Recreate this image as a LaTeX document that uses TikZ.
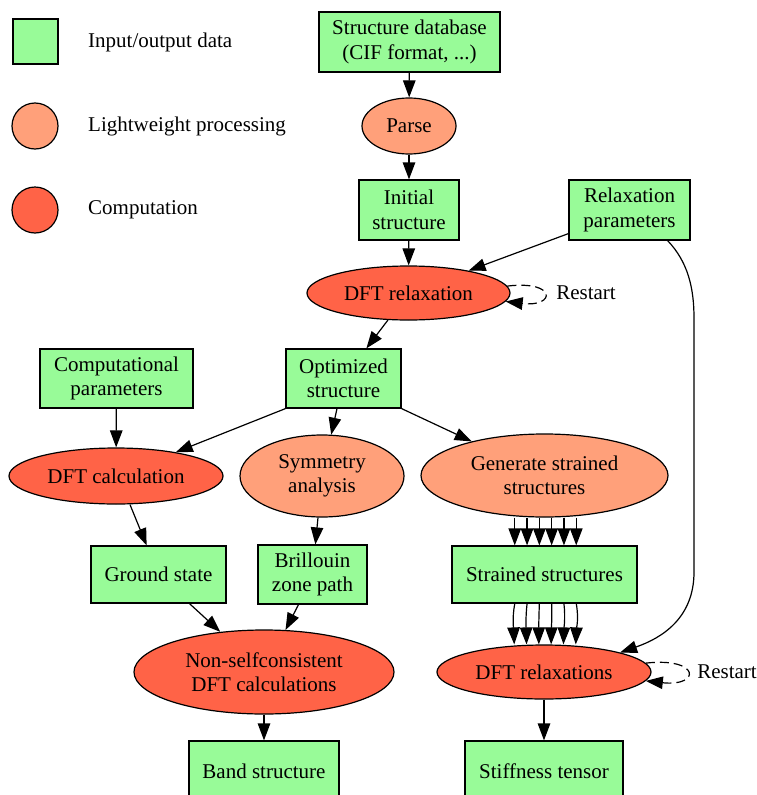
\documentclass[tikz,border=0pt]{standalone}
\usepackage{fontspec}
\setmainfont{Liberation Serif}
\usetikzlibrary{shapes.geometric,arrows.meta,calc}
\definecolor{iogreen}{RGB}{152,251,152}
\definecolor{lightproc}{RGB}{255,160,122}
\definecolor{comput}{RGB}{255,99,71}
\tikzset{flowtip/.tip={Triangle[length=17pt,width=12.5pt]}}
\begin{document}
\begin{tikzpicture}[x=1pt,y=-1pt,
  font=\fontsize{21}{24.5}\selectfont,
  databox/.style={rectangle,draw=black,fill=iogreen,line width=1.2pt,inner sep=0pt,align=center},
  lightnode/.style={ellipse,draw=black,fill=lightproc,line width=1.2pt,inner sep=0pt,align=center},
  compnode/.style={ellipse,draw=black,fill=comput,line width=1.2pt,inner sep=0pt,align=center},
  plainlabel/.style={inner sep=0pt},
  flow/.style={-flowtip,line width=1.2pt},
  loopline/.style={flow,dash pattern=on 9pt off 5pt}]
\useasboundingbox (0,0) rectangle (756,795);

% legend
\node[databox,minimum width=45pt,minimum height=45pt] (legio) at (35.5,41.5) {};
\node[plainlabel,anchor=west] (legiotext) at (88,42) {Input/output data};
\node[lightnode,minimum width=46pt,minimum height=46pt] (leglight) at (35,126) {};
\node[plainlabel,anchor=west] (leglighttext) at (88,126) {Lightweight processing};
\node[compnode,minimum width=46pt,minimum height=46pt] (legcomp) at (35,210) {};
\node[plainlabel,anchor=west] (legcomptext) at (88,210) {Computation};

% nodes
\node[databox,minimum width=181pt,minimum height=60pt] (db) at (409.5,42) {Structure database\\(CIF format, ...)};
\node[lightnode,minimum width=94pt,minimum height=56pt] (parse) at (409,126) {Parse};
\node[databox,minimum width=100pt,minimum height=60pt] (init) at (409,210) {Initial\\structure};
\node[databox,minimum width=121pt,minimum height=60pt] (relax) at (629.5,210) {Relaxation\\parameters};
\node[compnode,minimum width=203pt,minimum height=54pt] (dftrel) at (408.5,293) {DFT relaxation};
\node[plainlabel] (restart1) at (586,293) {Restart};
\node[databox,minimum width=115pt,minimum height=59pt] (opt) at (343.5,378.5) {Optimized\\structure};
\node[databox,minimum width=153pt,minimum height=59pt] (comp) at (116.5,378.5) {Computational\\parameters};
\node[compnode,minimum width=214pt,minimum height=56pt] (dftcalc) at (116,476) {DFT calculation};
\node[lightnode,minimum width=164pt,minimum height=82pt] (sym) at (322,476) {Symmetry\\analysis};
\node[lightnode,minimum width=247pt,minimum height=83pt] (gen) at (544.5,475.5) {Generate strained\\structures};
\node[databox,minimum width=185pt,minimum height=57pt] (strained) at (544.5,574.5) {Strained structures};
\node[compnode,minimum width=214pt,minimum height=54pt] (dftrels) at (544,672) {DFT relaxations};
\node[plainlabel] (restart2) at (727,672) {Restart};
\node[databox,minimum width=158pt,minimum height=60pt] (stiff) at (544,771) {Stiffness tensor};
\node[databox,minimum width=135pt,minimum height=57pt] (ground) at (158.5,574.5) {Ground state};
\node[databox,minimum width=109pt,minimum height=59pt] (bz) at (312.5,574.5) {Brillouin\\zone path};
\node[compnode,minimum width=260pt,minimum height=84pt] (nsc) at (264,672) {Non-selfconsistent\\DFT calculations};
\node[databox,minimum width=150pt,minimum height=60pt] (band) at (264,771) {Band structure};

% edges
\draw[flow] (db) -- (parse);
\draw[flow] (parse) -- (init);
\draw[flow] (init) -- (dftrel);
\draw[flow] ([yshift=7pt]relax.south west) -- (dftrel);
\draw[loopline] (dftrel.4) .. controls +(50,-6) and +(50,6) .. (dftrel.-5);
\draw[flow] (dftrel) -- (opt);
\draw[flow] (comp) -- (dftcalc);
\draw[flow] (opt.south west) -- (dftcalc);
\draw[flow] ([xshift=-6.5pt]opt.south) -- (sym);
\draw[flow] (opt.south east) -- (gen);
\draw[flow] ([xshift=14pt]dftcalc.south) -- (ground);
\draw[flow] (sym) -- (bz);
\draw[flow] ([xshift=31pt]ground.south) -- (nsc);
\draw[flow] ([xshift=-14pt]bz.south) -- (nsc);
\draw[flow] (nsc) -- (band);
\foreach \d in {-30.75,-18.45,-6.15,6.15,18.45,30.75}{
  \draw[flow] ([xshift=\d pt+1pt]gen.south) -- ([xshift=\d pt+1pt]strained.north);
  \draw[flow] ([xshift=\d pt+1pt]strained.south) .. controls +(0.09*\d,15) and +(0.02*\d,-15) .. ([xshift=\d pt+1pt]dftrels.north);
}
\coordinate (bendA) at (694,318);
\coordinate (bendB) at (694,572);
\draw[flow] ([xshift=-23pt]relax.south east) .. controls (688,262) and (694,288) .. (bendA) -- (bendB) .. controls (694,618) and (662,638) .. (dftrels.north east);
\draw[loopline] (dftrels.5) .. controls +(55,-6) and +(55,6) .. (dftrels.-5);
\draw[flow] (dftrels) -- (stiff);
\end{tikzpicture}
\end{document}
